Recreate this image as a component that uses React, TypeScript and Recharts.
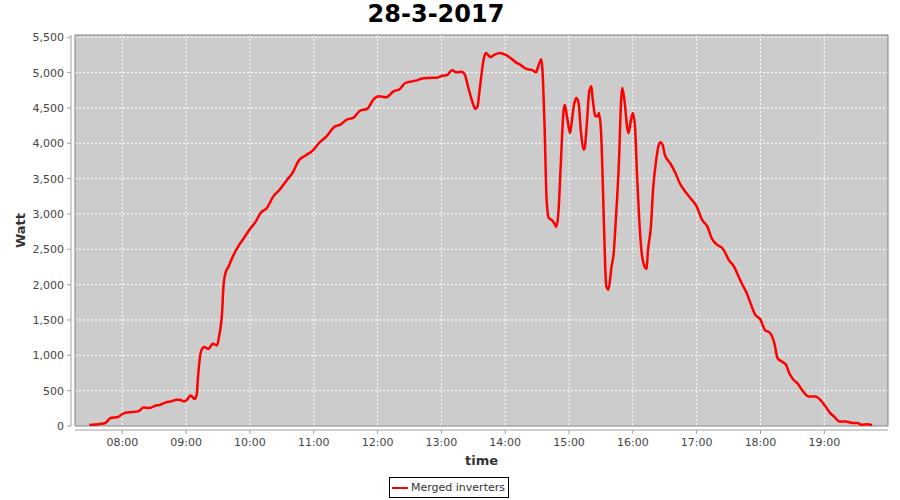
import React from 'react';
import { LineChart, Line, XAxis, YAxis, CartesianGrid, Legend, ReferenceArea, Label } from 'recharts';

const chartTitle = '28-3-2017';
const seriesName = 'Merged inverters';

const times = [
  '07:29','07:39','07:44','07:49','07:56','08:00','08:05','08:15','08:20','08:26','08:31','08:35','08:41','08:46','08:51','08:55','08:58',
  '09:01','09:04','09:06','09:08','09:10','09:11','09:14','09:17','09:21','09:25','09:29','09:31','09:34','09:35','09:37','09:40','09:44','09:50','09:55',
  '10:00','10:05','10:10','10:16','10:22','10:28','10:35','10:40','10:46','10:52','10:59',
  '11:05','11:12','11:20','11:25','11:31','11:37','11:44','11:50','11:56',
  '12:01','12:08','12:15','12:21','12:26','12:32','12:37','12:41','12:48','12:56',
  '13:01','13:05','13:10','13:14','13:19','13:22','13:25','13:29','13:32','13:34','13:36','13:40','13:42','13:46','13:50','13:55',
  '14:00','14:05','14:10','14:14','14:20','14:23','14:26','14:29','14:31','14:34','14:35','14:37','14:39','14:41','14:44','14:46','14:48','14:50','14:52','14:55','14:56','14:58',
  '15:01','15:02','15:05','15:07','15:09','15:11','15:14','15:15','15:17','15:19','15:21','15:22','15:25','15:27','15:28','15:30','15:32','15:34','15:35','15:37','15:40','15:42','15:44','15:47','15:49','15:50','15:52','15:55','15:56','15:58',
  '16:00','16:02','16:04','16:06','16:08','16:11','16:13','16:14','16:17','16:19','16:22','16:24','16:26','16:28','16:30','16:35','16:40','16:44','16:49','16:54',
  '17:00','17:05','17:10','17:14','17:19','17:24','17:27','17:30','17:35','17:40','17:43','17:47','17:50','17:55',
  '18:00','18:04','18:09','18:13','18:16','18:20','18:24','18:27','18:31','18:35','18:40','18:45','18:52','18:56',
  '19:01','19:05','19:10','19:14','19:20','19:27','19:31','19:35','19:40','19:45',
];

const watts = [
  14,28,42,113,127,170,192,207,263,255,287,297,334,348,372,368,348,
  372,433,410,382,443,655,1056,1118,1090,1165,1140,1268,1646,1953,2165,2258,2400,2565,2674,
  2788,2881,3014,3085,3249,3344,3485,3580,3758,3825,3896,
  4004,4098,4239,4263,4334,4358,4466,4485,4617,
  4664,4650,4735,4769,4853,4876,4890,4914,4924,4928,
  4957,4961,5032,5004,5013,4971,4806,4593,4486,4522,4759,5207,5278,5221,5254,5278,
  5254,5207,5145,5112,5052,5042,5032,5004,5088,5190,5040,4239,3178,2943,2909,2872,2816,3014,3627,4476,4546,4381,
  4146,4239,4570,4641,4570,4193,3910,3956,4334,4735,4806,4664,4381,4381,4429,4193,3297,2258,1975,1929,2258,2448,2919,3768,4620,4783,4620,4193,4146,4310,
  4429,4239,3532,2919,2495,2258,2222,2448,2824,3344,3768,3956,4013,3980,3839,3721,3580,3438,3320,3226,
  3108,2919,2824,2660,2565,2519,2448,2353,2258,2094,1999,1882,1763,1575,
  1504,1363,1316,1174,962,914,867,750,655,599,490,419,419,372,
  278,193,122,65,65,42,42,18,23,14,
];

const xTickLabels = ['08:00','09:00','10:00','11:00','12:00','13:00','14:00','15:00','16:00','17:00','18:00','19:00'];
const yTicks = [0, 500, 1000, 1500, 2000, 2500, 3000, 3500, 4000, 4500, 5000, 5500];

const toHours = (s: string) => {
  const [h, m] = s.split(':').map(Number);
  return h + m / 60;
};
const fmtHour = (h: number) => {
  const hh = Math.floor(h + 1e-6);
  const mm = Math.round((h - hh) * 60);
  return `${String(hh).padStart(2, '0')}:${String(mm).padStart(2, '0')}`;
};

const data = times.map((t, i) => ({ t: toHours(t), w: watts[i] }));
const xTicks = xTickLabels.map(toHours);

const X_MIN = 7.259;
const X_MAX = 19.998;
const Y_MAX = 5532;

const FONT = 'DejaVu Sans, sans-serif';

const renderLegend = (props: any) => {
  const payload = props.payload || [];
  return (
    <div style={{ display: 'flex', justifyContent: 'center', paddingTop: 1 }}>
      {payload.map((p: any, i: number) => (
        <div key={i} style={{ border: '1px solid #000', height: 19, display: 'flex', alignItems: 'center', padding: '0 3px 0 2px', fontFamily: FONT, fontSize: 11, color: '#333', background: '#fff', marginLeft: -2 }}>
          <svg width={16} height={6} style={{ display: 'block' }}>
            <line x1={0} y1={3} x2={16} y2={3} stroke="#ff0000" strokeWidth={2} />
          </svg>
          <span style={{ marginLeft: 3 }}>{p.value}</span>
        </div>
      ))}
    </div>
  );
};

export default function App() {
  return (
    <div style={{ position: 'absolute', left: 0, top: 0, width: 900, height: 500, background: '#fff' }}>
      <div style={{ position: 'absolute', left: 0, top: 0, width: 872, textAlign: 'center', fontFamily: FONT, fontWeight: 'bold', fontSize: 24, lineHeight: '28px', color: '#000' }}>
        {chartTitle}
      </div>
      <LineChart width={900} height={500} data={data} margin={{ top: 35, right: 12, left: 0, bottom: 0 }}>
        <CartesianGrid fill="#cccccc" stroke="#ffffff" strokeDasharray="2 2" horizontalValues={yTicks} verticalValues={xTicks} />
        <ReferenceArea x1={X_MIN} x2={X_MAX} y1={0} y2={Y_MAX} fill="none" stroke="#808080" strokeWidth={1} ifOverflow="visible" />
        <XAxis
          type="number"
          dataKey="t"
          domain={[X_MIN, X_MAX]}
          ticks={xTicks}
          tickFormatter={fmtHour}
          allowDataOverflow
          height={50}
          tickSize={4}
          tickMargin={8}
          axisLine={{ stroke: '#a0a0a0', transform: 'translate(0,4)' } as any}
          tickLine={{ stroke: '#a0a0a0', transform: 'translate(0,4)' } as any}
          tick={{ fill: '#444', fontFamily: FONT, fontSize: 11 }}
        >
          <Label
            content={(p: any) => {
              const vb = p.viewBox || { x: 75, width: 813, y: 426 };
              return (
                <text x={vb.x + vb.width / 2} y={465} textAnchor="middle" fontFamily={FONT} fontWeight="bold" fontSize={13} fill="#333">time</text>
              );
            }}
          />
        </XAxis>
        <YAxis
          type="number"
          domain={[0, Y_MAX]}
          ticks={yTicks}
          allowDataOverflow
          width={75}
          tickSize={4}
          tickMargin={7}
          tickFormatter={(v: number) => v.toLocaleString('en-US')}
          axisLine={{ stroke: '#a0a0a0', transform: 'translate(-4,0)' } as any}
          tickLine={{ stroke: '#a0a0a0', transform: 'translate(-4,0)' } as any}
          tick={{ fill: '#444', fontFamily: FONT, fontSize: 11 }}
        >
          <Label
            content={(p: any) => {
              const vb = p.viewBox || { y: 35, height: 391 };
              const cy = vb.y + vb.height / 2;
              return (
                <text x={20} y={cy} transform={`rotate(-90, 20, ${cy})`} textAnchor="middle" dominantBaseline="central" fontFamily={FONT} fontWeight="bold" fontSize={13} fill="#333">Watt</text>
              );
            }}
          />
        </YAxis>
        <Legend verticalAlign="bottom" height={24} content={renderLegend} wrapperStyle={{ left: 0, width: 900 }} />
        <Line
          type="monotone"
          dataKey="w"
          name={seriesName}
          stroke="#ff0000"
          strokeWidth={2.5}
          dot={false}
          activeDot={false}
          isAnimationActive={false}
        />
      </LineChart>
    </div>
  );
}
